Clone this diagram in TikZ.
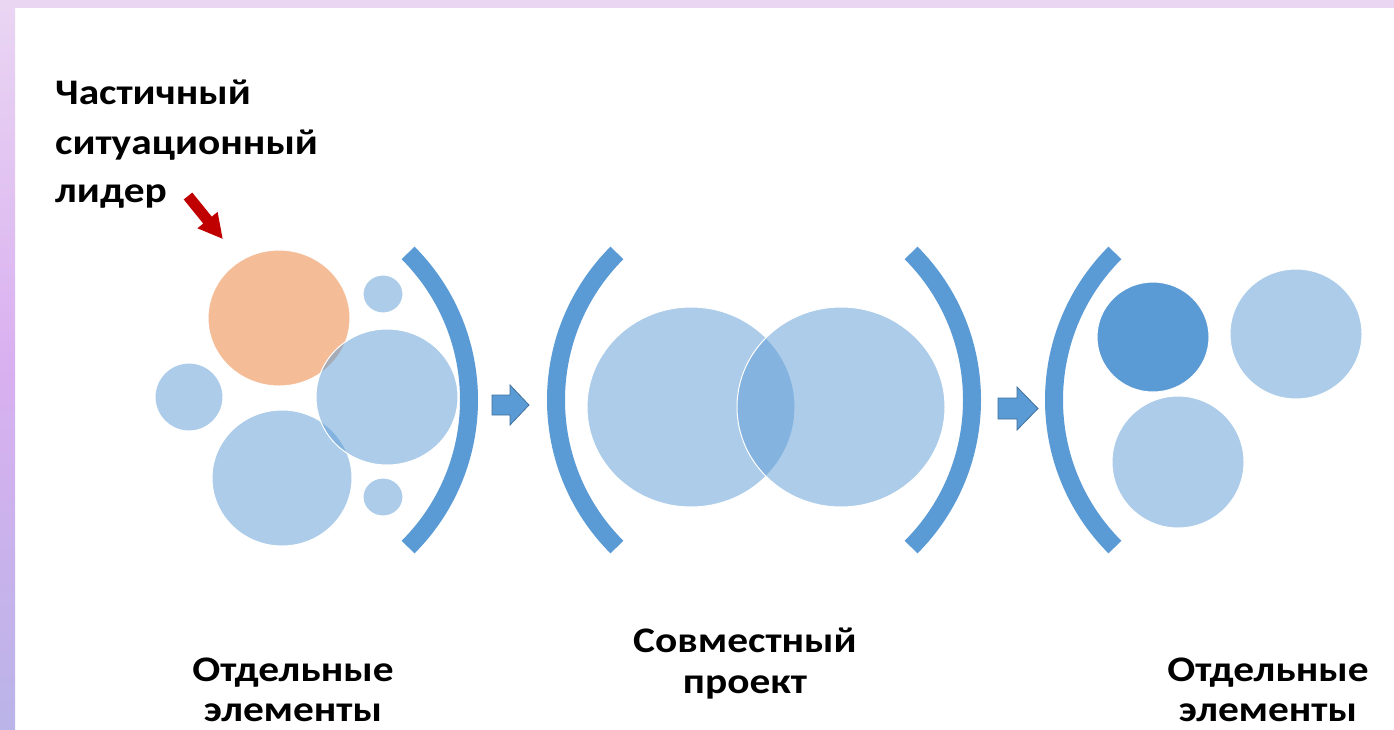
\documentclass[tikz,border=0pt]{standalone}
\usepackage{fontspec}
\setmainfont{Carlito}
\newfontfamily\lblfont{Carlito}[FakeStretch=1.15]
\definecolor{blu}{HTML}{5B9BD5}
\definecolor{blueedge}{HTML}{41719C}
\definecolor{orng}{HTML}{ED7D31}
\definecolor{darkred}{HTML}{C00000}
\definecolor{lavtop}{HTML}{EAD6F3}
\definecolor{lavmid}{HTML}{D9B0F0}
\definecolor{lavbot}{HTML}{BAB4E8}
\begin{document}
\begin{tikzpicture}[x=1pt,y=-1pt,
  bub/.style={fill=blu, fill opacity=0.5, draw=white, line width=1pt},
  bubsolid/.style={fill=blu, draw=white, line width=1pt},
  bubor/.style={fill=orng, fill opacity=0.5, draw=white, line width=1pt},
  brk/.style={draw=blu, line width=18pt},
  blockarrow/.style={fill=blu, draw=blueedge, line width=0.8pt},
  lbl/.style={font=\lblfont\fontsize{36}{44}\selectfont\bfseries, inner sep=0pt, text=black}]
% canvas
\useasboundingbox (0,0) rectangle (1394,729);
\fill[white] (0,0) rectangle (1394,729);
\shade[top color=lavtop, bottom color=lavbot, middle color=lavmid] (0,0) rectangle (15,729);
\fill[lavtop] (0,0) rectangle (1394,8);

% left group
\fill[bubor] (279,318) ellipse [x radius=71pt, y radius=68pt];
\fill[bub] (383,294) ellipse [x radius=20pt, y radius=19pt];
\fill[bub] (189,397) ellipse [x radius=34pt, y radius=34pt];
\filldraw[bub] (282,478) ellipse [x radius=70pt, y radius=68pt];
\filldraw[bub] (387,397) ellipse [x radius=71pt, y radius=68pt];
\fill[bub] (383,497) ellipse [x radius=20pt, y radius=19pt];
\draw[brk] ([shift={(45:208pt)}]261,400) arc[start angle=45, end angle=-45, radius=208pt];

% arrow 1
\filldraw[blockarrow] (492,395) -- (510,395) -- (510,385) -- (529,405) -- (510,425) -- (510,415) -- (492,415) -- cycle;

% center group
\draw[brk] ([shift={(135:208pt)}]764,400) arc[start angle=135, end angle=225, radius=208pt];
\draw[brk] ([shift={(45:208pt)}]764,400) arc[start angle=45, end angle=-45, radius=208pt];
\fill[bub] (691,407) ellipse [x radius=104pt, y radius=100pt];
\filldraw[bub] (841,407) ellipse [x radius=104pt, y radius=100pt];

% arrow 2
\filldraw[blockarrow] (998,398) -- (1017,398) -- (1017,387) -- (1038,408.5) -- (1017,430) -- (1017,419) -- (998,419) -- cycle;

% right group
\draw[brk] ([shift={(135:208pt)}]1262,400) arc[start angle=135, end angle=225, radius=208pt];
\fill[bubsolid] (1153,337) ellipse [x radius=56pt, y radius=55pt];
\fill[bub] (1296,334) ellipse [x radius=66pt, y radius=65pt];
\fill[bub] (1178,462) ellipse [x radius=66pt, y radius=66pt];

% red arrow
\begin{scope}[shift={(188,196)}, rotate=-51]
  \fill[darkred] (0,-5.5) -- (31,-5.5) -- (31,-13) -- (55,0) -- (31,13) -- (31,5.5) -- (0,5.5) -- cycle;
\end{scope}

% labels
\node[lbl, anchor=base west] (lead1) at (55,104) {Частичный};
\node[lbl, anchor=base west] (lead2) at (55,154) {ситуационный};
\node[lbl, anchor=base west] (lead3) at (55,202) {лидер};

\node[lbl, anchor=base] (left1) at (293,681) {Отдельные};
\node[lbl, anchor=base] (left2) at (293,721) {элементы};
\node[lbl, anchor=base] (mid1) at (745,652) {Совместный};
\node[lbl, anchor=base] (mid2) at (745,693) {проект};
\node[lbl, anchor=base] (right1) at (1268,681) {Отдельные};
\node[lbl, anchor=base] (right2) at (1268,721) {элементы};
\end{tikzpicture}
\end{document}
